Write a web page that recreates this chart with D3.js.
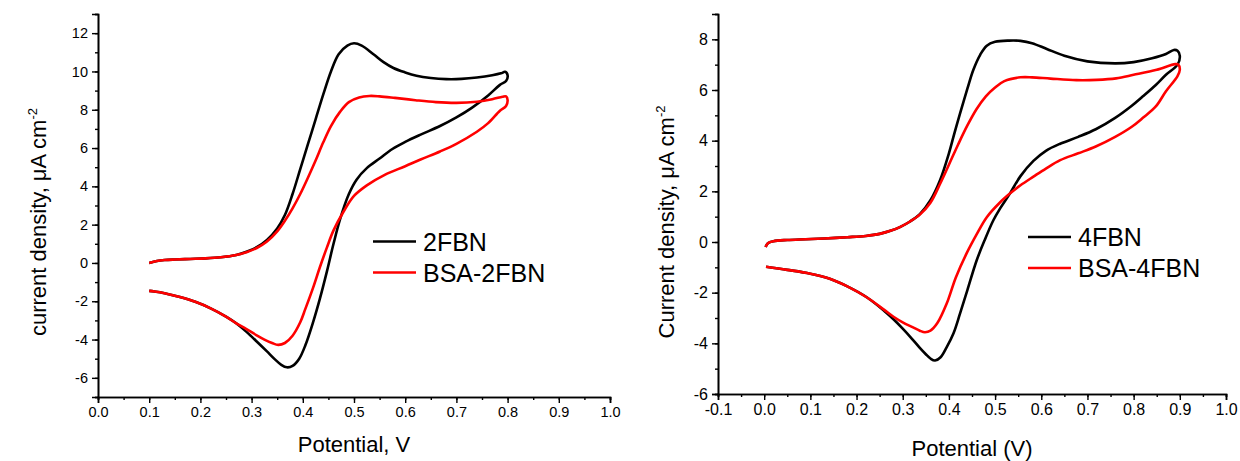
<!DOCTYPE html>
<html>
<head>
<meta charset="utf-8">
<script src="https://cdn.jsdelivr.net/npm/d3@7"></script>
<style>
body {margin: 0; background: #fff;}
text {font-family: Arial, "Liberation Sans", sans-serif; fill: #000;}
</style>
</head>
<body>
<div id="chart"></div>
<script>
//Data: [potential (V), current density (uA cm-2)]
//left panel, scan goes up to 0.8 V then back
const fbn2 = [
    [0.100,0.00],[0.115,0.10],[0.13,0.15],[0.15,0.18],[0.18,0.21],[0.21,0.24],[0.24,0.30],[0.27,0.42],
    [0.29,0.58],[0.31,0.82],[0.33,1.20],[0.35,1.80],[0.365,2.5],[0.38,3.6],[0.395,4.9],[0.41,6.2],
    [0.425,7.5],[0.44,8.8],[0.455,10.0],[0.47,10.9],[0.487,11.35],[0.50,11.47],[0.515,11.35],
    [0.538,10.9],[0.557,10.5],[0.577,10.18],[0.60,9.95],[0.622,9.78],[0.65,9.66],[0.68,9.6],[0.71,9.61],
    [0.74,9.68],[0.77,9.8],[0.787,9.9],[0.795,9.98],[0.800,9.8],
    [0.797,9.5],[0.785,9.3],[0.762,8.75],[0.73,8.1],[0.70,7.6],[0.668,7.15],[0.63,6.7],[0.60,6.32],
    [0.575,5.95],[0.55,5.45],[0.525,4.95],[0.505,4.35],[0.49,3.6],[0.473,2.3],[0.46,1.0],[0.447,-0.45],
    [0.433,-1.9],[0.42,-3.1],[0.405,-4.3],[0.393,-5.0],[0.38,-5.38],[0.369,-5.45],[0.358,-5.32],[0.345,-5.02],
    [0.33,-4.62],[0.31,-4.1],[0.29,-3.6],[0.27,-3.15],[0.25,-2.8],[0.22,-2.37],[0.19,-2.03],[0.16,-1.78],
    [0.13,-1.58],[0.11,-1.49],[0.10,-1.46]
];
const bsa2fbn = [
    [0.100,0.00],[0.115,0.10],[0.13,0.15],[0.15,0.18],[0.18,0.21],[0.21,0.24],[0.24,0.30],[0.27,0.42],
    [0.29,0.56],[0.31,0.78],[0.33,1.12],[0.35,1.65],[0.365,2.2],[0.38,2.85],[0.395,3.6],[0.41,4.45],
    [0.425,5.35],[0.44,6.3],[0.455,7.15],[0.473,7.9],[0.49,8.4],[0.51,8.64],[0.53,8.72],[0.55,8.7],
    [0.58,8.62],[0.62,8.5],[0.66,8.4],[0.70,8.36],[0.74,8.42],[0.77,8.55],[0.79,8.68],[0.797,8.7],[0.800,8.5],
    [0.797,8.2],[0.785,7.95],[0.762,7.3],[0.74,6.85],[0.70,6.22],[0.668,5.82],[0.63,5.4],[0.60,5.05],
    [0.56,4.6],[0.525,4.05],[0.50,3.5],[0.48,2.7],[0.46,1.7],[0.447,0.8],[0.433,-0.25],[0.42,-1.3],
    [0.405,-2.4],[0.395,-3.1],[0.38,-3.8],[0.365,-4.18],[0.352,-4.28],[0.34,-4.18],[0.325,-4.0],[0.31,-3.78],
    [0.29,-3.45],[0.27,-3.15],[0.25,-2.8],[0.22,-2.37],[0.19,-2.03],[0.16,-1.78],[0.13,-1.58],[0.11,-1.49],[0.10,-1.46]
];
//right panel, scan goes up to 0.9 V then back
const fbn4 = [
    [0.003,-0.2],[0.008,-0.05],[0.02,0.03],[0.05,0.08],[0.09,0.11],[0.13,0.14],[0.18,0.19],[0.22,0.24],
    [0.25,0.32],[0.275,0.45],[0.295,0.6],[0.315,0.8],[0.337,1.1],[0.36,1.65],[0.381,2.45],[0.40,3.5],
    [0.412,4.3],[0.424,5.07],[0.44,6.05],[0.453,6.8],[0.468,7.4],[0.482,7.75],[0.50,7.9],[0.53,7.95],
    [0.555,7.94],[0.58,7.85],[0.612,7.62],[0.65,7.35],[0.70,7.13],[0.76,7.05],[0.80,7.1],[0.84,7.25],
    [0.87,7.42],[0.887,7.58],[0.895,7.55],[0.90,7.35],
    [0.895,7.0],[0.87,6.6],[0.848,6.2],[0.82,5.75],[0.796,5.38],[0.76,4.9],[0.718,4.45],[0.68,4.15],
    [0.641,3.88],[0.61,3.6],[0.583,3.2],[0.555,2.6],[0.532,1.91],[0.51,1.3],[0.496,0.85],[0.478,0.1],
    [0.46,-0.73],[0.44,-1.9],[0.424,-2.83],[0.41,-3.6],[0.395,-4.16],[0.382,-4.55],[0.37,-4.68],[0.36,-4.6],
    [0.35,-4.43],[0.337,-4.18],[0.32,-3.82],[0.30,-3.42],[0.28,-3.05],[0.26,-2.72],[0.222,-2.18],[0.18,-1.75],
    [0.142,-1.45],[0.10,-1.25],[0.05,-1.1],[0.004,-0.98]
];
const bsa4fbn = [
    [0.003,-0.2],[0.008,-0.05],[0.02,0.03],[0.05,0.08],[0.09,0.11],[0.13,0.14],[0.18,0.19],[0.22,0.24],
    [0.25,0.32],[0.275,0.45],[0.295,0.6],[0.315,0.8],[0.337,1.08],[0.36,1.55],[0.381,2.3],[0.40,3.05],
    [0.42,3.85],[0.44,4.6],[0.46,5.25],[0.48,5.75],[0.50,6.1],[0.52,6.35],[0.555,6.5],[0.58,6.5],
    [0.62,6.45],[0.676,6.39],[0.72,6.4],[0.762,6.46],[0.80,6.6],[0.85,6.8],[0.89,7.02],[0.897,7.0],[0.90,6.8],
    [0.895,6.55],[0.87,5.95],[0.848,5.35],[0.82,4.9],[0.796,4.55],[0.76,4.15],[0.718,3.77],[0.68,3.5],
    [0.641,3.23],[0.61,2.9],[0.583,2.58],[0.555,2.24],[0.532,1.91],[0.51,1.55],[0.482,0.98],[0.46,0.3],
    [0.438,-0.46],[0.415,-1.4],[0.395,-2.44],[0.375,-3.2],[0.36,-3.5],[0.348,-3.56],[0.337,-3.5],[0.32,-3.35],
    [0.30,-3.17],[0.28,-2.95],[0.26,-2.68],[0.222,-2.18],[0.18,-1.75],[0.142,-1.45],[0.10,-1.25],[0.05,-1.1],[0.004,-0.98]
];

//tick values
const leftXTicks = d3.range(0, 11).map(d => d / 10);
const leftYTicks = [-6, -4, -2, 0, 2, 4, 6, 8, 10, 12];
const rightXTicks = d3.range(-1, 11).map(d => d / 10);
const rightYTicks = [-6, -4, -2, 0, 2, 4, 6, 8];

const leftNames = ["2FBN", "BSA-2FBN"];
const rightNames = ["4FBN", "BSA-4FBN"];
const colors = ["#000000", "#ff0000"];

const svg = d3.select("#chart")
    .append("svg")
    .attr("width", 1240)
    .attr("height", 461);

svg.append("rect")
    .attr("width", "100%")
    .attr("height", "100%")
    .attr("fill", "#fff");

function panel(cfg) {
    let g = svg.append("g");
    let scaleX = d3.scaleLinear().domain(cfg.xDomain).range(cfg.xRange);
    let scaleY = d3.scaleLinear().domain(cfg.yDomain).range(cfg.yRange);
    const y0 = cfg.yRange[0], x0 = cfg.xRange[0];

    //minor ticks first, then major
    let xMinor = d3.range(cfg.xDomain[0] * 20, cfg.xDomain[1] * 20 + 0.5).map(d => d / 20);
    let yMinor = d3.range(cfg.yDomain[0], cfg.yDomain[1] + 1);

    g.append("g")
        .attr("transform", `translate(0,${y0})`)
        .call(d3.axisBottom(scaleX).tickValues(xMinor).tickSize(3).tickFormat(""));
    g.append("g")
        .attr("transform", `translate(${x0},0)`)
        .call(d3.axisLeft(scaleY).tickValues(yMinor).tickSize(3).tickFormat(""));

    let axX = g.append("g")
        .attr("transform", `translate(0,${y0})`)
        .call(d3.axisBottom(scaleX).tickValues(cfg.xTicks).tickSize(6).tickPadding(4)
            .tickFormat(d => d.toFixed(1)));
    let axY = g.append("g")
        .attr("transform", `translate(${x0},0)`)
        .call(d3.axisLeft(scaleY).tickValues(cfg.yTicks).tickSize(6).tickPadding(4)
            .tickFormat(d => String(d)));

    g.selectAll(".domain").attr("stroke", "#000").attr("stroke-width", 1.6);
    g.selectAll(".tick line").attr("stroke", "#000").attr("stroke-width", 1.4);
    axX.selectAll("text").attr("font-size", cfg.tickFont).attr("font-family", "Arial, 'Liberation Sans', sans-serif");
    axY.selectAll("text").attr("font-size", cfg.tickFont).attr("font-family", "Arial, 'Liberation Sans', sans-serif");

    //curves
    let line = d3.line()
        .x(d => scaleX(d[0]))
        .y(d => scaleY(d[1]))
        .curve(d3.curveCatmullRom.alpha(0.5));
    cfg.series.forEach(function(s, i) {
        g.append("path")
            .datum(s)
            .attr("fill", "none")
            .attr("stroke", colors[i])
            .attr("stroke-width", 2.6)
            .attr("stroke-linejoin", "round")
            .attr("d", line);
    });

    //axis titles
    g.append("text")
        .attr("x", (cfg.xRange[0] + cfg.xRange[1]) / 2)
        .attr("y", cfg.xTitleY)
        .attr("text-anchor", "middle")
        .attr("font-size", 22)
        .text(cfg.xTitle);
    let yt = g.append("text")
        .attr("transform", `translate(${cfg.yTitlePos[0]},${cfg.yTitlePos[1]}) rotate(-90)`)
        .attr("text-anchor", "middle")
        .attr("font-size", 22);
    yt.append("tspan").text(cfg.yTitle);
    yt.append("tspan").attr("font-size", 13).attr("dy", -9).text("-2");

    //legend
    cfg.names.forEach(function(name, i) {
        let ly = cfg.legend[1] + i * 31;
        g.append("line")
            .attr("x1", cfg.legend[0]).attr("x2", cfg.legend[0] + 43)
            .attr("y1", ly).attr("y2", ly)
            .attr("stroke", colors[i])
            .attr("stroke-width", 2.6);
        g.append("text")
            .attr("x", cfg.legend[0] + 50)
            .attr("y", ly + 9)
            .attr("font-size", 25)
            .text(name);
    });
}

panel({
    xDomain: [0, 1], xRange: [98, 610],
    yDomain: [-7, 13], yRange: [397, 14],
    xTicks: leftXTicks, yTicks: leftYTicks,
    tickFont: 14.5,
    series: [fbn2, bsa2fbn], names: leftNames,
    xTitle: "Potential, V", xTitleY: 452,
    yTitle: "current density, \u03bcA cm",
    yTitlePos: [46, 222],
    legend: [373, 241.5]
});

panel({
    xDomain: [-0.1, 1], xRange: [718, 1226],
    yDomain: [-6, 9], yRange: [394, 14],
    xTicks: rightXTicks, yTicks: rightYTicks,
    tickFont: 16,
    series: [fbn4, bsa4fbn], names: rightNames,
    xTitle: "Potential (V)", xTitleY: 456,
    yTitle: "Current density, \u03bcA cm",
    yTitlePos: [674, 222],
    legend: [1028, 237]
});
</script>
</body>
</html>
